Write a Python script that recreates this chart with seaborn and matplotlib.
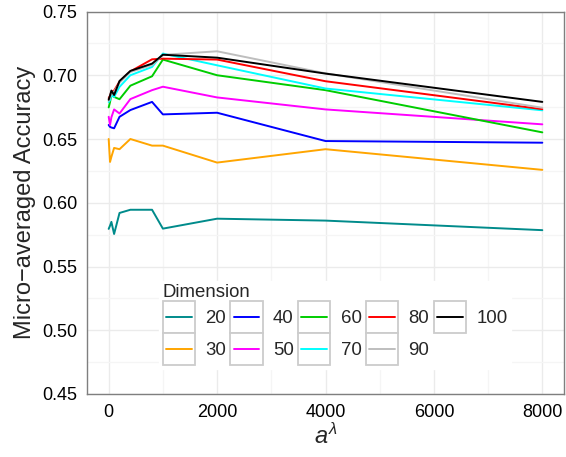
import pandas as pd
import matplotlib
matplotlib.use("Agg")
import matplotlib.pyplot as plt
import seaborn as sns
from matplotlib.lines import Line2D
from matplotlib.patches import Rectangle
from matplotlib.legend_handler import HandlerBase
from matplotlib.ticker import FixedLocator

a_values = [0, 25, 50, 100, 200, 400, 800, 1000, 2000, 4000, 8000]

acc_20 = [0.5795, 0.582, 0.585, 0.5755, 0.592, 0.5945, 0.5945, 0.5797, 0.5875, 0.586, 0.5785]
acc_30 = [0.650, 0.632, 0.636, 0.643, 0.642, 0.650, 0.6448, 0.6448, 0.6315, 0.642, 0.6258]
acc_40 = [0.661, 0.6595, 0.659, 0.6584, 0.6674, 0.6727, 0.6791, 0.6693, 0.6706, 0.6484, 0.6471]
acc_50 = [0.6674, 0.661, 0.667, 0.6732, 0.670, 0.6813, 0.6883, 0.691, 0.6826, 0.6732, 0.6615]
acc_60 = [0.6748, 0.679, 0.6844, 0.683, 0.6812, 0.6918, 0.6992, 0.7123, 0.700, 0.6883, 0.6552]
acc_70 = [0.679, 0.6805, 0.6844, 0.683, 0.6909, 0.700, 0.7065, 0.717, 0.7078, 0.6896, 0.6725]
acc_80 = [0.682, 0.684, 0.687, 0.688, 0.695, 0.703, 0.7125, 0.7130, 0.7123, 0.6953, 0.6734]
acc_90 = [0.680, 0.683, 0.686, 0.687, 0.694, 0.7025, 0.708, 0.716, 0.7188, 0.7015, 0.6745]
acc_100 = [0.6808, 0.684, 0.688, 0.6845, 0.6955, 0.7034, 0.7091, 0.7161, 0.7138, 0.7013, 0.6791]

dimensions = ["20", "30", "40", "50", "60", "70", "80", "90", "100"]
series = [acc_20, acc_30, acc_40, acc_50, acc_60, acc_70, acc_80, acc_90, acc_100]
colors = ["#008B8B", "#FFA500", "#0000FF", "#FF00FF", "#00CD00",
          "#00FFFF", "#FF0000", "#BEBEBE", "#000000"]

x_ticks = [0, 2000, 4000, 6000, 8000]
y_ticks = [0.45, 0.50, 0.55, 0.60, 0.65, 0.70, 0.75]

rows = []
for dim, vals in zip(dimensions, series):
    for a, v in zip(a_values, vals):
        rows.append({"a": a, "acc": v, "Dimension": dim})
df = pd.DataFrame(rows)
palette = dict(zip(dimensions, colors))

sns.set_theme(style="white")
plt.rcParams["font.family"] = ["Liberation Sans", "DejaVu Sans"]
plt.rcParams["mathtext.fontset"] = "custom"
plt.rcParams["mathtext.it"] = "Liberation Sans:italic"
plt.rcParams["mathtext.rm"] = "Liberation Sans"


class KeyHandler(HandlerBase):
    # ggplot-like legend key: grey bordered box with a short line inside
    def create_artists(self, legend, orig_handle, xdescent, ydescent,
                       width, height, fontsize, trans):
        x0, y0 = -xdescent, -ydescent
        box = Rectangle((x0, y0), width, height, facecolor="white",
                        edgecolor="#CCCCCC", lw=1.3, transform=trans)
        inset = 0.1 * width
        ym = y0 + height / 2
        line = Line2D([x0 + inset, x0 + width - inset], [ym, ym],
                      color=orig_handle.get_color(), lw=1.4, transform=trans)
        return [box, line]


fig = plt.figure(figsize=(5.66, 4.57), dpi=100)
ax = fig.add_axes([87 / 566, 1 - 394 / 457, 477 / 566, 382.5 / 457])

sns.lineplot(data=df, x="a", y="acc", hue="Dimension", palette=palette,
             hue_order=dimensions, linewidth=1.4, errorbar=None,
             legend=False, ax=ax)

ax.set_xlim(-400, 8400)
ax.set_ylim(0.45, 0.75)
ax.set_xticks(x_ticks)
ax.set_yticks(y_ticks)
ax.set_yticklabels([f"{v:.2f}" for v in y_ticks])
ax.xaxis.set_minor_locator(FixedLocator([1000, 3000, 5000, 7000]))
ax.yaxis.set_minor_locator(FixedLocator([0.475, 0.525, 0.575, 0.625, 0.675, 0.725]))

ax.grid(True, which="major", color="#EBEBEB", lw=1.0)
ax.grid(True, which="minor", color="#F5F5F5", lw=0.9)
ax.set_axisbelow(True)
for sp in ax.spines.values():
    sp.set_color("#7F7F7F")
    sp.set_linewidth(1.0)

ax.tick_params(which="major", length=5, width=1, color="#333333",
               labelsize=13, labelcolor="black", pad=2)
ax.tick_params(which="minor", length=0)

ax.set_xlabel(r"$a^{\lambda}$", fontsize=17, labelpad=2)
ax.set_ylabel("Micro\u2212averaged Accuracy", fontsize=17, labelpad=4)

handles = [Line2D([], [], color=c, lw=1.4) for c in colors]
leg = ax.legend(handles, dimensions, title="Dimension", ncol=5,
                loc="lower left", bbox_to_anchor=(159 / 566, 1 - 369 / 457),
                bbox_transform=fig.transFigure, fontsize=13.4,
                title_fontsize=13.4, alignment="left",
                handlelength=1.72, handleheight=2.27, handletextpad=0.55,
                labelspacing=0.0, columnspacing=0.25, borderpad=0.2,
                frameon=True, fancybox=False, borderaxespad=0,
                handler_map={Line2D: KeyHandler()})
leg.get_frame().set_facecolor("white")
leg.get_frame().set_edgecolor("white")
leg.get_frame().set_alpha(1)

fig.savefig("out.png", dpi=100)
